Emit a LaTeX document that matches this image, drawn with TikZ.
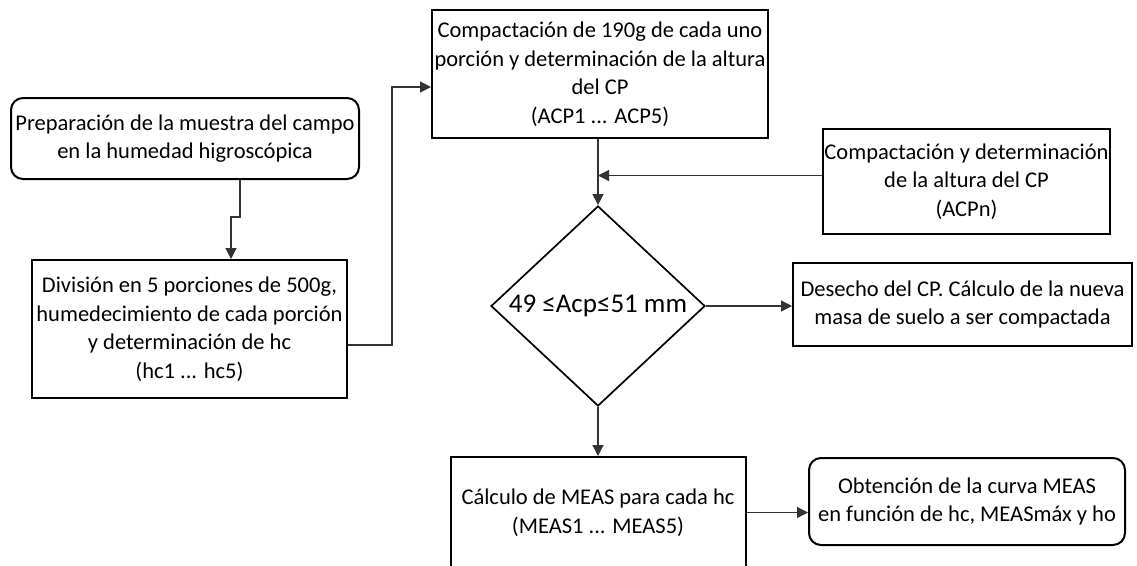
\documentclass[tikz,border=0pt]{standalone}
\usepackage{fontspec}
\setmainfont{Carlito}
\usetikzlibrary{arrows.meta, shapes.geometric, positioning, calc}

\newcommand{\boxfont}{\fontsize{22.5}{28.5}\selectfont}
\newcommand{\testfont}{\fontsize{27}{30}\selectfont}

\tikzset{
  box/.style={draw, line width=2pt, align=center, inner sep=0pt, font=\boxfont},
  softbox/.style={box, rounded corners=12pt},
  decision/.style={draw, diamond, line width=1.7pt, inner sep=0pt, font=\testfont},
  link/.style={line width=1.2pt, draw=black!80}
}

\begin{document}
\begin{tikzpicture}[x=1pt, y=-1pt, >={Triangle[length=11pt,width=11pt]}]
  \useasboundingbox (0,0) rectangle (1137,565);

  % left column
  \node[softbox, minimum width=348pt, minimum height=81pt] (prep) at (185,138.5)
    {Preparación de la muestra del campo\\en la humedad higroscópica};
  \node[box, minimum width=315pt, minimum height=138pt] (div) at (189.5,329)
    {División en 5 porciones de 500g,\\humedecimiento de cada porción\\y determinación de hc\\(hc1 ... hc5)};

  % middle column
  \node[box, minimum width=336pt, minimum height=128pt] (cp) at (600,74)
    {Compactación de 190g de cada uno\\porción y determinación de la altura\\del CP\\(ACP1 ... ACP5)};
  \node[decision, minimum width=214pt, minimum height=181pt] (chk) at (598,306)
    {49 ≤Acp≤51 mm};
  \node[box, minimum width=295pt, minimum height=111pt] (meas) at (598,512.5)
    {Cálculo de MEAS para cada hc\\(MEAS1 ... MEAS5)};

  % right column
  \node[box, minimum width=287pt, minimum height=105pt] (acpn) at (966.5,181.5)
    {Compactación y determinación\\de la altura del CP\\(ACPn)};
  \node[box, minimum width=339pt, minimum height=83pt] (waste) at (962.5,304.5)
    {Desecho del CP. Cálculo de la nueva\\masa de suelo a ser compactada};
  \node[softbox, minimum width=316pt, minimum height=87pt] (curve) at (967,501.5)
    {Obtención de la curva MEAS\\en función de hc, MEASmáx y ho};

  % connectors
  \coordinate (jog) at (231,217);
  \draw[link, ->] ([xshift=55pt]prep.south) |- (jog) -- (jog |- div.north);
  \draw[link, ->] ([yshift=-16pt]div.east) -- ++(44,0) |- ([yshift=-13pt]cp.west);
  \draw[link, ->] (cp.south -| chk.north) -- (chk.north);
  \draw[link, ->] ([yshift=6pt]acpn.west) -- ([yshift=6pt]acpn.west -| chk.north);
  \draw[link, ->] (chk.east) -- (chk.east -| waste.west);
  \draw[link, ->] (chk.south) -- (meas.north);
  \draw[link, ->] (meas.east) -- (meas.east -| curve.west);
\end{tikzpicture}
\end{document}
